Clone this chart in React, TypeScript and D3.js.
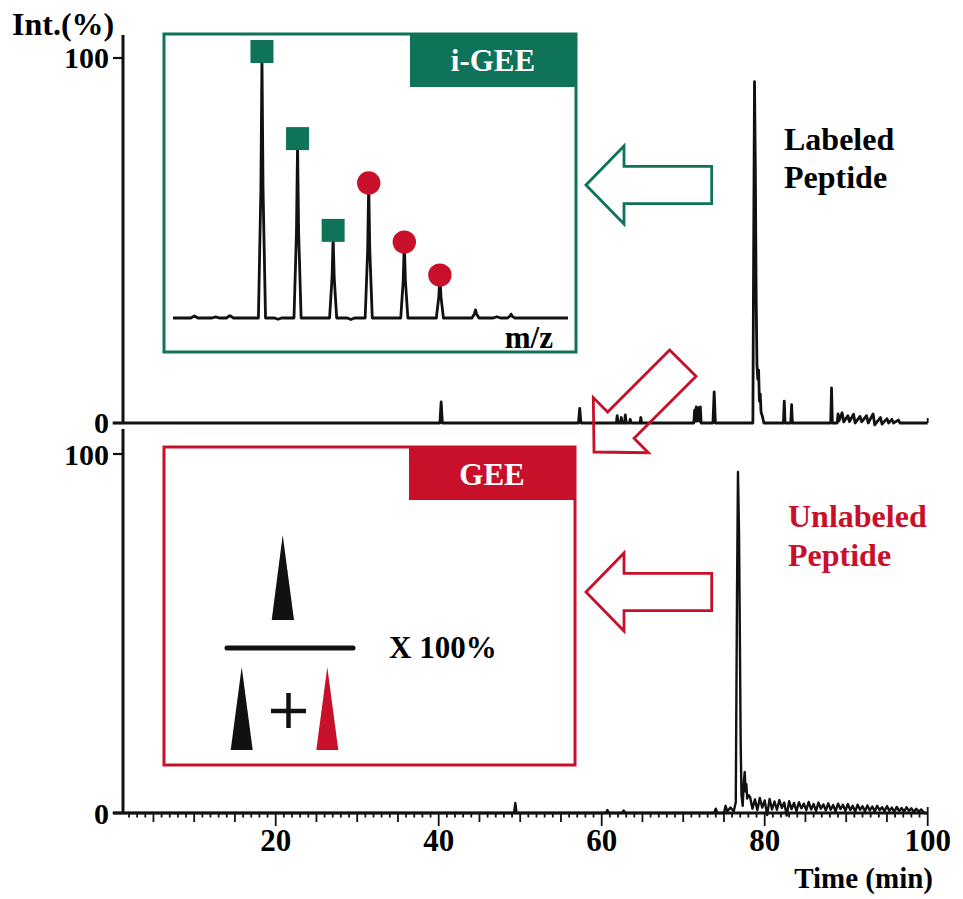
import React from 'react';
import * as d3 from 'd3';

// chromatogram, labeled peptide (time min, intensity %)
const topTrace: [number, number][] = [
  [0, 0], [40.15, 0], [40.3, 5.8], [40.45, 0],
  [57.15, 0], [57.3, 4], [57.45, 0],
  [61.8, 0], [61.9, 2], [62.0, 0], [62.3, 0], [62.4, 1.5], [62.5, 0], [62.8, 0], [62.9, 2.2], [63.0, 0],
  [63.4, 0], [63.5, 1], [63.6, 0], [64.7, 0], [64.8, 1.5], [64.9, 0],
  [71.3, 0], [71.4, 3.5], [71.5, 0.5], [71.6, 4.4], [71.7, 0.5], [71.9, 4.2], [72.0, 0.5], [72.1, 4.4], [72.2, 0],
  [73.65, 0], [73.8, 8.5], [73.95, 0],
  [78.55, 0], [78.65, 50], [78.75, 93.5], [78.85, 70], [78.95, 35], [79.05, 16], [79.15, 12], [79.25, 14.5],
  [79.35, 6], [79.45, 8], [79.55, 3], [79.7, 2], [79.9, 0],
  [82.3, 0], [82.4, 6], [82.5, 0], [83.2, 0], [83.3, 5], [83.4, 0],
  [88.1, 0], [88.2, 9.6], [88.3, 0],
  [88.9, 0], [89.0, 2.5], [89.1, 0.5], [89.5, 2.8], [89.7, 0.3], [90.2, 2], [90.4, 0.4], [90.9, 2.4], [91.1, 0],
  [91.7, 1.8], [91.9, 0.3], [92.5, 2], [92.7, 0], [93.3, 2.5], [93.5, -0.5], [94.2, 1.5], [94.4, -0.3],
  [95.0, 1.2], [95.2, 0], [95.6, 1], [95.8, 0], [96.4, 0.8], [96.6, 0], [100, 0],
];

// chromatogram, unlabeled peptide
const bottomPeak: [number, number][] = [
  [0, 0], [49.25, 0], [49.4, 2.8], [49.55, 0],
  [60.5, 0], [60.7, 0.8], [60.9, 0], [62.5, 0], [62.7, 0.7], [62.9, 0],
  [73.8, 0], [74.0, 1.2], [74.2, 0], [75.0, 0], [75.2, 2], [75.4, 0.5], [75.8, 1.5], [76.2, 0.5],
  [76.45, 3], [76.6, 60], [76.72, 95], [76.85, 78], [76.95, 50], [77.05, 20], [77.15, 5], [77.3, 2],
  [77.45, 9], [77.55, 11.4], [77.65, 6], [77.75, 8], [77.85, 4], [78.0, 5],
];
const noiseStart = 78.2;
const noiseStep = 0.3;
const bottomNoise = [
  4.5, 1.2, 3.8, 0.8, 4.2, 1.5, 3.5, -0.6, 3.9, 1.0, 3.2, 0.9, 3.6, 1.4, 2.9, -0.7, 3.3, 1.1, 2.8, 0.5,
  3.0, 1.3, 2.6, 0.8, 3.1, 1.0, 2.5, 0.6, 2.9, 1.2, 2.4, 0.7, 2.7, 0.9, 2.2, 0.5, 2.6, 1.1, 2.3, 0.6,
  2.5, 0.8, 2.0, 0.4, 2.3, 0.9, 1.9, 0.5, 2.1, 0.7, 1.8, 0.4, 2.0, 0.8, 1.6, 0.5, 1.9, 0.6, 1.5, 0.3,
  1.7, 0.5, 1.4, 0.4, 1.6, 0.6, 1.3, 0.3, 1.2, 0.4, 1.0,
];

const xTicks = [20, 40, 60, 80, 100];
const yTicks = [0, 100];

// inset mass spectrum (isotope index, relative intensity)
const insetPeaks: [number, number][] = [
  [0, 100], [1, 66.5], [2, 31.2], [3, 51.9], [4, 29.2], [5, 16.5], [6, 3.1], [7, 1.5],
];
const insetWiggles: [number, number][] = [[-1.9, 0.8], [-1.3, 0.4], [-0.9, 0.9], [0.45, -0.5], [2.5, -0.6], [6.6, 0.5]];
const labeledIdx = [0, 1, 2];
const unlabeledIdx = [3, 4, 5];

const GREEN = '#0e7358';
const RED = '#c9102a';
const FONT = '"Liberation Serif", "Times New Roman", serif';

// hollow arrow, tip at origin, pointing left
const arrowPts: [number, number][] = [
  [0, 0], [38, -39], [38, -18.7], [125.7, -18.7], [125.7, 18.7], [38, 18.7], [38, 39],
];

const App = () => {
  const x = d3.scaleLinear().domain([0, 100]).range([112.7, 927.7]);
  const yTop = d3.scaleLinear().domain([0, 100]).range([423, 58]);
  const yBot = d3.scaleLinear().domain([0, 100]).range([813, 454]);
  const axisX = 123;

  const bottomTrace: [number, number][] = [
    ...bottomPeak,
    ...bottomNoise.map((v, i) => [noiseStart + i * noiseStep, v] as [number, number]),
    [99.6, 0], [100, 0],
  ];

  const topLine = d3.line<[number, number]>().x(d => x(d[0])).y(d => yTop(d[1]));
  const botLine = d3.line<[number, number]>().x(d => x(d[0])).y(d => yBot(d[1]));

  // inset scales
  const ix = d3.scaleLinear().domain([-2.5, 8.6]).range([173, 568]);
  const iy = d3.scaleLinear().domain([0, 100]).range([318, 58]);
  const insetPts: [number, number][] = [[-2.5, 0]];
  const events = [
    ...insetWiggles.map(w => ({ k: w[0], v: w[1], spike: false })),
    ...insetPeaks.map(p => ({ k: p[0], v: p[1], spike: true })),
  ].sort((a, b) => a.k - b.k);
  events.forEach(e => {
    if (e.spike) {
      insetPts.push([e.k - 0.1, 0], [e.k - 0.03, e.v * 0.5], [e.k, e.v], [e.k + 0.03, e.v * 0.5], [e.k + 0.1, 0]);
    } else {
      insetPts.push([e.k - 0.1, 0], [e.k, e.v], [e.k + 0.1, 0]);
    }
  });
  insetPts.push([8.6, 0]);
  const insetLine = d3.line<[number, number]>().x(d => ix(d[0])).y(d => iy(d[1]));

  const arrowPath = d3.line()(arrowPts) + 'Z';

  const minorTicks = d3.range(2, 101);

  return (
    <svg width={963} height={899} style={{ position: 'absolute', left: 0, top: 0, background: '#fff' }}
      fontFamily={FONT} fontWeight="bold">
      {/* axis title */}
      <text x={12} y={35} fontSize={32}>Int.(%)</text>

      {/* top panel axis */}
      <line x1={axisX} x2={axisX} y1={35} y2={yTop(0)} stroke="#111" strokeWidth={3} />
      {yTicks.map(t => (
        <g key={'yt' + t}>
          <line x1={113} x2={axisX} y1={yTop(t)} y2={yTop(t)} stroke="#111" strokeWidth={2.2} />
          <text x={109} y={yTop(t)} dy="0.34em" textAnchor="end" fontSize={30}>{t}</text>
        </g>
      ))}
      <path d={topLine(topTrace) || ''} fill="none" stroke="#111" strokeWidth={2.8} strokeLinejoin="round" />
      <line x1={x(100)} x2={x(100)} y1={yTop(0) - 5} y2={yTop(0)} stroke="#111" strokeWidth={1.8} />

      {/* bottom panel axis */}
      <line x1={axisX} x2={axisX} y1={429} y2={yBot(0)} stroke="#111" strokeWidth={3} />
      {yTicks.map(t => (
        <g key={'yb' + t}>
          <line x1={113} x2={axisX} y1={yBot(t)} y2={yBot(t)} stroke="#111" strokeWidth={2.2} />
          <text x={109} y={yBot(t)} dy="0.36em" textAnchor="end" fontSize={30}>{t}</text>
        </g>
      ))}
      <line x1={113} x2={x(100)} y1={yBot(0)} y2={yBot(0)} stroke="#111" strokeWidth={3} />
      {minorTicks.map(t => {
        const len = t % 20 === 0 ? 13 : t % 5 === 0 ? 9 : 4.5;
        return <line key={'mt' + t} x1={x(t)} x2={x(t)} y1={yBot(0)} y2={yBot(0) + len} stroke="#111" strokeWidth={1.8} />;
      })}
      <line x1={x(100)} x2={x(100)} y1={yBot(0) - 6} y2={yBot(0)} stroke="#111" strokeWidth={1.8} />
      <path d={botLine(bottomTrace) || ''} fill="none" stroke="#111" strokeWidth={2.4} strokeLinejoin="round" />
      {xTicks.map(t => (
        <text key={'xl' + t} x={x(t)} y={851} textAnchor="middle" fontSize={31}>{t}</text>
      ))}
      <text x={933} y={888} textAnchor="end" fontSize={29}>Time (min)</text>

      {/* inset: i-GEE spectrum */}
      <rect x={164} y={34} width={412} height={318} fill="#fff" stroke={GREEN} strokeWidth={3} />
      <rect x={410} y={33} width={167} height={54} fill={GREEN} />
      <text x={493} y={71} textAnchor="middle" fontSize={31} fill="#fff">i-GEE</text>
      <path d={insetLine(insetPts) || ''} fill="none" stroke="#111" strokeWidth={2.8} strokeLinejoin="round" />
      {labeledIdx.map(i => (
        <rect key={'sq' + i} x={ix(insetPeaks[i][0]) - 11.5} y={iy(insetPeaks[i][1]) - 18} width={23} height={23} fill={GREEN} />
      ))}
      {unlabeledIdx.map(i => (
        <circle key={'ci' + i} cx={ix(insetPeaks[i][0])} cy={iy(insetPeaks[i][1])} r={11.7} fill={RED} />
      ))}
      <text x={553} y={348} textAnchor="end" fontSize={31}>m/z</text>

      {/* inset: GEE formula */}
      <rect x={164} y={447} width={411} height={318} fill="#fff" stroke={RED} strokeWidth={3} />
      <rect x={409} y={446} width={167} height={54} fill={RED} />
      <text x={492} y={485} textAnchor="middle" fontSize={31} fill="#fff">GEE</text>
      <path d="M282.7,535 L294,620 L271.7,620 Z" fill="#111" />
      <line x1={227} x2={353} y1={648} y2={648} stroke="#111" strokeWidth={5} strokeLinecap="round" />
      <text x={389} y={658} fontSize={31}>X 100%</text>
      <path d="M241.7,667 L252.7,750 L230.7,750 Z" fill="#111" />
      <line x1={271} x2={306} y1={711} y2={711} stroke="#111" strokeWidth={4.5} />
      <line x1={288.5} x2={288.5} y1={693} y2={728} stroke="#111" strokeWidth={4.5} />
      <path d="M327.3,667 L338.3,750 L316.3,750 Z" fill={RED} />

      {/* arrows */}
      <path d={arrowPath} transform="translate(586,185)" fill="#fff" stroke={GREEN} strokeWidth={2.8} />
      <path d={arrowPath} transform="translate(586,592)" fill="#fff" stroke={RED} strokeWidth={2.8} />
      <path d={arrowPath} transform="translate(594,452) rotate(-45)" fill="none" stroke={RED} strokeWidth={2.8} />

      {/* peak labels */}
      <text x={784} y={150} fontSize={32}>Labeled</text>
      <text x={784} y={188} fontSize={32}>Peptide</text>
      <text x={788} y={527} fontSize={32} fill={RED}>Unlabeled</text>
      <text x={788} y={566} fontSize={32} fill={RED}>Peptide</text>
    </svg>
  );
};

export default App;
